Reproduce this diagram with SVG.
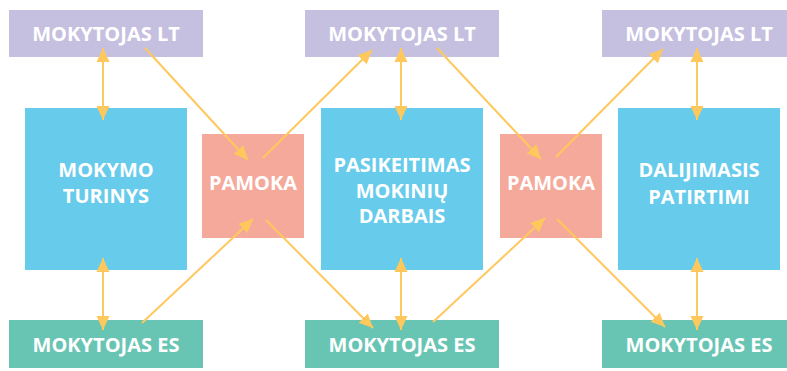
<svg xmlns="http://www.w3.org/2000/svg" width="787" height="371" viewBox="0 0 787 371">
  <style>
    .lt { fill: #C5C0E0; }
    .es { fill: #69C5B3; }
    .topic { fill: #67CBEB; }
    .lesson { fill: #F5A99B; }
    text { font-family: "Open Sans", "Liberation Sans", sans-serif; font-weight: 700; font-size: 20px; fill: #FFFFFF; text-anchor: middle; }
    .conn { stroke: #FFC85C; stroke-width: 2; fill: none; }
    .one { marker-end: url(#head); }
    .two { marker-start: url(#head); marker-end: url(#head); }
  </style>
  <defs>
    <marker id="head" viewBox="0 0 15 15" refX="14" refY="7.5" markerWidth="15" markerHeight="15" markerUnits="userSpaceOnUse" orient="auto-start-reverse">
      <path d="M0,1 L14,7.5 L0,14 Z" fill="#FFC85C"/>
    </marker>
  </defs>

  <!-- column 1 -->
  <g id="lt1"><rect class="lt" x="9" y="10" width="194" height="47"/><text x="106" y="41">MOKYTOJAS LT</text></g>
  <g id="topic1"><rect class="topic" x="25" y="108" width="162" height="162"/><text x="106" y="177">MOKYMO</text><text x="106" y="203">TURINYS</text></g>
  <g id="es1"><rect class="es" x="9" y="320" width="194" height="48"/><text x="106" y="352">MOKYTOJAS ES</text></g>

  <!-- lesson 1 -->
  <g id="lesson1"><rect class="lesson" x="202" y="134" width="102" height="104"/><text x="253" y="190">PAMOKA</text></g>

  <!-- column 2 -->
  <g id="lt2"><rect class="lt" x="305" y="10" width="194" height="47"/><text x="402" y="41">MOKYTOJAS LT</text></g>
  <g id="topic2"><rect class="topic" x="321" y="108" width="162" height="162"/><text x="402" y="172">PASIKEITIMAS</text><text x="402" y="198">MOKINIŲ</text><text x="402" y="223">DARBAIS</text></g>
  <g id="es2"><rect class="es" x="305" y="320" width="194" height="48"/><text x="402" y="352">MOKYTOJAS ES</text></g>

  <!-- lesson 2 -->
  <g id="lesson2"><rect class="lesson" x="500" y="134" width="102" height="104"/><text x="551" y="190">PAMOKA</text></g>

  <!-- column 3 -->
  <g id="lt3"><rect class="lt" x="602" y="10" width="194" height="47"/><text x="699" y="41">MOKYTOJAS LT</text></g>
  <g id="topic3"><rect class="topic" x="618" y="108" width="162" height="162"/><text x="699" y="177">DALIJIMASIS</text><text x="699" y="204">PATIRTIMI</text></g>
  <g id="es3"><rect class="es" x="602" y="320" width="194" height="48"/><text x="699" y="352">MOKYTOJAS ES</text></g>

  <!-- connectors -->
  <g id="connectors">
    <line class="conn two" x1="103" y1="48" x2="103" y2="120"/>
    <line class="conn two" x1="103" y1="258" x2="103" y2="330"/>
    <line class="conn two" x1="401" y1="48" x2="401" y2="120"/>
    <line class="conn two" x1="401" y1="258" x2="401" y2="330"/>
    <line class="conn two" x1="697" y1="48" x2="697" y2="120"/>
    <line class="conn two" x1="697" y1="258" x2="697" y2="330"/>

    <line class="conn one" x1="145" y1="48" x2="248" y2="160"/>
    <line class="conn one" x1="263" y1="158" x2="372" y2="50"/>
    <line class="conn one" x1="142" y1="323" x2="253" y2="219"/>
    <line class="conn one" x1="266" y1="220" x2="373" y2="328"/>

    <line class="conn one" x1="437" y1="48" x2="541" y2="159"/>
    <line class="conn one" x1="556" y1="157" x2="663" y2="49"/>
    <line class="conn one" x1="433" y1="322" x2="545" y2="218"/>
    <line class="conn one" x1="557" y1="219" x2="665" y2="327"/>
  </g>
</svg>
